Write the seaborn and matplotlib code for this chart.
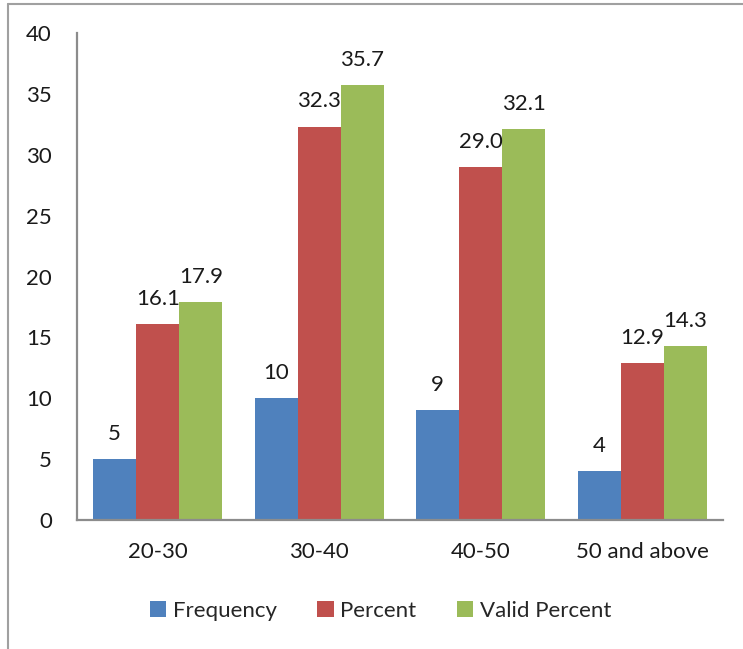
import pandas as pd
import matplotlib.pyplot as plt
import seaborn as sns
from matplotlib.lines import Line2D

# Chart data
age_groups = ["20-30", "30-40", "40-50", "50 and above"]
frequency = [5, 10, 9, 4]
percent = [16.1, 32.3, 29.0, 12.9]
valid_percent = [17.9, 35.7, 32.1, 14.3]
series_names = ["Frequency", "Percent", "Valid Percent"]

# Long-form table for seaborn
df = pd.DataFrame({
    "Age": age_groups * 3,
    "Value": frequency + percent + valid_percent,
    "Series": [s for s in series_names for _ in age_groups],
})

sns.set_style("white")
plt.rcParams["font.family"] = ["Lato", "DejaVu Sans"]

fig = plt.figure(figsize=(7.43, 6.49), dpi=100)
ax = fig.add_axes([0.1036, 0.1988, 0.8694, 0.7503])

palette = ["#4F81BD", "#C0504D", "#9BBB59"]
sns.barplot(data=df, x="Age", y="Value", hue="Series", palette=palette,
            width=0.8, saturation=1, linewidth=0, ax=ax)

# value labels
for cont, name in zip(ax.containers, series_names):
    fmt = "%d" if name == "Frequency" else "%.1f"
    ax.bar_label(cont, fmt=fmt, padding=11, fontsize=16, color="#1a1a1a")

ax.set_ylim(0, 40)
ax.set_yticks(range(0, 41, 5))
ax.set_xlabel("")
ax.set_ylabel("")
ax.tick_params(axis="both", length=0, labelsize=16, colors="#1a1a1a")
ax.tick_params(axis="y", pad=18)
ax.tick_params(axis="x", pad=16)
for side in ["top", "right"]:
    ax.spines[side].set_visible(False)
for side in ["left", "bottom"]:
    ax.spines[side].set_color("#8c8c8c")
    ax.spines[side].set_linewidth(1.6)

ax.legend(loc="upper center", bbox_to_anchor=(0.47, -0.125), ncol=3,
          frameon=False, fontsize=16, handlelength=0.75, handleheight=0.75,
          handletextpad=0.3, columnspacing=1.8)

# outer frame (left and top edges)
fig.add_artist(Line2D([8 / 743, 8 / 743], [0, 1 - 4 / 649],
                      transform=fig.transFigure, color="#a0a0a0", lw=1.5))
fig.add_artist(Line2D([8 / 743, 1], [1 - 4 / 649, 1 - 4 / 649],
                      transform=fig.transFigure, color="#a0a0a0", lw=1.5))

plt.savefig("out.png", dpi=100)
